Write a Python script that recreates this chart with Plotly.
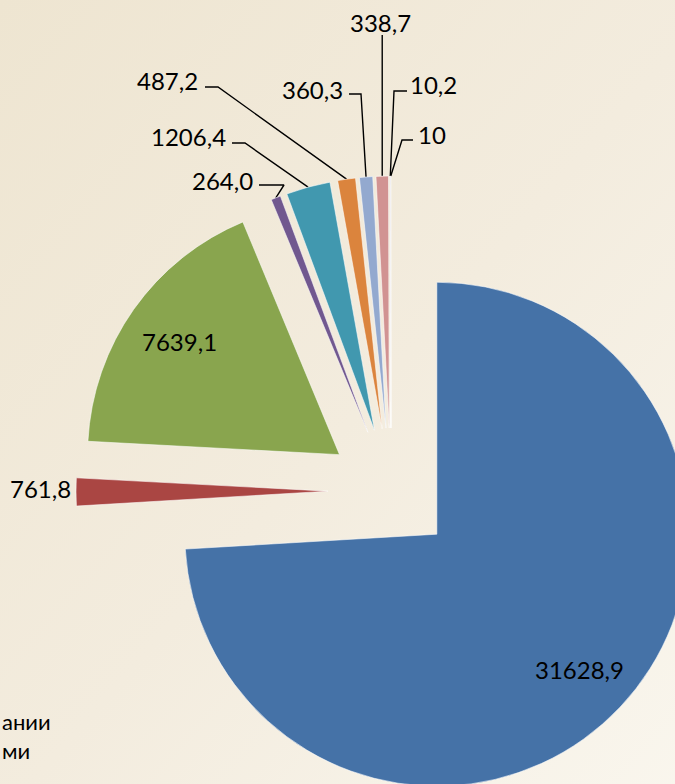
import math
import base64
import plotly.graph_objects as go

# ---------------- data ----------------
categories = ["Сегмент 1", "Сегмент 2", "Сегмент 3", "Сегмент 4", "Сегмент 5",
              "Сегмент 6", "Сегмент 7", "Сегмент 8", "Сегмент 9", "Сегмент 10"]
values = [31628.9, 761.8, 7639.1, 264.0, 1206.4, 487.2, 360.3, 338.7, 10.2, 10]
value_labels = ["31628,9", "761,8", "7639,1", "264,0", "1206,4",
                "487,2", "360,3", "338,7", "10,2", "10"]
legend_tail = ["ании", "ми"]

# ---------------- style / layout ----------------
colors = ["#4572A7", "#AA4643", "#89A54E", "#71588F", "#4198AF",
          "#DB843D", "#93A9CF", "#D19392", "#B9CD96", "#A99BBD"]
W, H = 720, 820          # paper larger than the window -> chart is cropped like the reference
CX, CY = 391, 491        # pie centre (px)
R = 252                  # slice radius (px)
PULL = 0.25
ROT = 0
FONT = "Lato, 'Noto Sans', sans-serif"
FS = 24
FS_LEG = 22

half = R * (1 + PULL)
dom_x = [(CX - half) / W, (CX + half) / W]
dom_y = [1 - (CY + half) / H, 1 - (CY - half) / H]

total = sum(values)
mids = []
cum = 0.0
for v in values:
    mids.append(ROT + (cum + v / 2) / total * 360.0)
    cum += v


def polar(i, frac):
    m = math.radians(mids[i])
    return CX + frac * R * math.sin(m), CY - frac * R * math.cos(m)


fig = go.Figure()

fig.add_trace(go.Pie(
    labels=categories, values=values, sort=False, direction="clockwise",
    rotation=ROT, pull=[PULL] * len(values), domain=dict(x=dom_x, y=dom_y),
    marker=dict(colors=colors, line=dict(color="rgba(255,255,255,0.55)", width=1)),
    textinfo="none", hoverinfo="skip", showlegend=False,
))

annotations = []
# inside labels (big slices)
for i in (0, 2):
    x, y = polar(i, PULL + 0.78)
    annotations.append(dict(x=x, y=y, xref="x", yref="y", text=value_labels[i],
                            showarrow=False, xanchor="center", yanchor="middle",
                            font=dict(family=FONT, size=FS, color="black")))

# outside label for the red slice
ax_, ay_ = polar(1, 1 + PULL)
annotations.append(dict(x=ax_ - 3, y=ay_ - 3, xref="x", yref="y", text=value_labels[1],
                        showarrow=False, xanchor="right", yanchor="middle",
                        font=dict(family=FONT, size=FS, color="black")))

# outside labels with leader lines: text placement + elbow points (px)
outside = {
    3: dict(tx=255, ty=180, xa="right", elbow=[(259, 185), (284, 185)]),
    4: dict(tx=228, ty=136, xa="right", elbow=[(232, 143), (245, 143)]),
    5: dict(tx=200, ty=80, xa="right", elbow=[(205, 87), (218, 87)]),
    6: dict(tx=345, ty=89, xa="right", elbow=[(349, 94), (361, 94)]),
    7: dict(tx=380, ty=22, xa="center", elbow=None),
    8: dict(tx=408, ty=84, xa="left", elbow=[(407, 91), (394, 91)]),
    9: dict(tx=416, ty=134, xa="left", elbow=[(413, 140), (402, 140)]),
}
for i, cfg in outside.items():
    ax_, ay_ = polar(i, 1 + PULL)
    if cfg["elbow"] is None:
        pts = [(ax_, 35), (ax_, ay_)]
    else:
        pts = cfg["elbow"] + [(ax_, ay_)]
    fig.add_trace(go.Scatter(x=[p[0] for p in pts], y=[p[1] for p in pts], mode="lines",
                             line=dict(color="black", width=1.4), hoverinfo="skip",
                             showlegend=False))
    annotations.append(dict(x=cfg["tx"], y=cfg["ty"], xref="x", yref="y", text=value_labels[i],
                            showarrow=False, xanchor=cfg["xa"], yanchor="middle",
                            font=dict(family=FONT, size=FS, color="black")))

# cropped legend tails
for txt, xl, yc in zip(legend_tail, (0, 0), (721, 750)):
    annotations.append(dict(x=xl, y=yc, xref="x", yref="y", text=txt, showarrow=False,
                            xanchor="left", yanchor="middle",
                            font=dict(family=FONT, size=FS_LEG, color="black")))

svg = (f'<svg xmlns="http://www.w3.org/2000/svg" width="{W}" height="{H}" '
       f'viewBox="0 0 {W} {H}" preserveAspectRatio="none"><defs>'
       '<linearGradient id="g" x1="0" y1="0" x2="1" y2="1">'
       '<stop offset="0" stop-color="#EEE5D1"/><stop offset="0.5" stop-color="#F3ECDE"/>'
       '<stop offset="1" stop-color="#FAF7EF"/></linearGradient></defs>'
       '<rect width="100%" height="100%" fill="url(#g)"/></svg>')
bg_uri = "data:image/svg+xml;base64," + base64.b64encode(svg.encode()).decode()

fig.update_layout(
    width=W, height=H, margin=dict(l=0, r=0, t=0, b=0),
    paper_bgcolor="#F3ECDE", plot_bgcolor="rgba(0,0,0,0)",
    xaxis=dict(range=[0, W], visible=False, fixedrange=True),
    yaxis=dict(range=[H, 0], visible=False, fixedrange=True),
    annotations=annotations, showlegend=False,
    images=[dict(source=bg_uri, xref="paper", yref="paper", x=0, y=1, sizex=1, sizey=1,
                 xanchor="left", yanchor="top", sizing="stretch", layer="below")],
)

fig.write_html(
    "out.html",
    config={"displayModeBar": False},
    post_script="document.body.style.margin='0';document.body.style.overflow='hidden';"
                "document.documentElement.style.overflow='hidden';",
)
